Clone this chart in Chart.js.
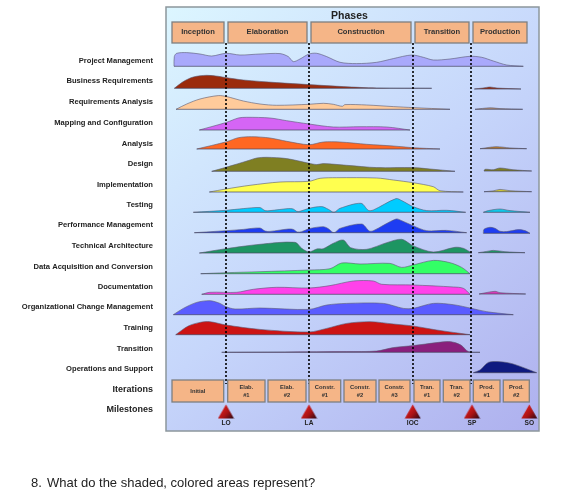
<!DOCTYPE html>
<html><head><meta charset="utf-8">
<style>
html,body{margin:0;padding:0;background:#fff;width:562px;height:494px;overflow:hidden}
#wrap{position:relative;width:562px;height:494px}
canvas{position:absolute;left:0;top:0}
#q{position:absolute;left:31px;top:475px;font:13px "Liberation Sans",Arial,sans-serif;color:#222;white-space:pre}
#q span{display:inline-block;width:16px}
</style>
<script src="https://cdn.jsdelivr.net/npm/chart.js@4"></script>
</head><body><div id="wrap"><canvas id="c" width="562" height="494"></canvas><div id="q"><span>8.</span>What do the shaded, colored areas represent?</div></div>
<script>
// Row labels and their positions on the vertical axis
const rowLabels = ["Project Management","Business Requirements","Requirements Analysis","Mapping and Configuration","Analysis","Design","Implementation","Testing","Performance Management","Technical Architecture","Data Acquisition and Conversion","Documentation","Organizational Change Management","Training","Transition","Operations and Support","Iterations","Milestones"];
const rowTicks = [61,81.3,102.3,122.7,143.7,164,184.7,205,225.3,246,266.7,287,307.3,328,348.7,369.3,389.3,409.7];

const phaseLabels = ["Inception","Elaboration","Construction","Transition","Production"];
const phaseStart = [172,228,311,415,473];
const phaseEnd = [224,307,411,469,527];

const iterLabels = [["Initial"],["Elab.","#1"],["Elab.","#2"],["Constr.","#1"],["Constr.","#2"],["Constr.","#3"],["Tran.","#1"],["Tran.","#2"],["Prod.","#1"],["Prod.","#2"]];
const iterStart = [172,227.7,268,309,344,379,414,443.3,473.3,503.3];
const iterEnd = [223.7,265,306,340.7,376,410,440,470,500,529.3];

const milestoneLabels = ["LO","LA","IOC","SP","SO"];
const milestoneX = [226,309,412.7,472,529.3];
const phaseLineX = [226,309,413,471];

// Hump profiles: [time, height above the row baseline]
const projectMgmt = [[174,0],[174.3,9.7],[176.7,13],[186.7,13.7],[200,12.3],[211.7,10.3],[226,13],[240,11.3],[260,12.3],[280,12.7],[288.3,9.7],[293.3,4.7],[300,7.3],[309,12.3],[316.7,13],[326.7,9.7],[340,4],[356.7,2.7],[376.7,4],[393.3,7.7],[411.7,11.3],[423.3,9],[433.3,6.3],[450,7.3],[470,10],[481.7,9],[493.3,5.3],[506.7,1.3],[523.3,0]];
const businessReq = [[174.3,0],[183.3,6.7],[193.3,11.3],[206.7,13],[218.3,12],[226,10.7],[243.3,8.3],[276.7,5.7],[309,3.7],[343.3,1.7],[376.7,0.3],[431.7,0]];
const businessReqProd = [[474.3,0],[483,1],[490,2],[497,1],[521,0]];
const reqAnalysis = [[176,0],[186.7,5.3],[200,10.3],[218.3,13.7],[226.7,12.7],[243.3,8.3],[260,5.3],[276.7,4],[309,5],[323.3,6],[333.3,5],[342.3,3],[345,4.7],[366.7,4.3],[393.3,2.7],[413,1.7],[450,0]];
const reqAnalysisProd = [[475,0],[490,1.5],[500,0.7],[522.7,0]];
const mapping = [[199.3,0],[226.7,7.7],[238.3,12],[246.7,12.7],[270,12],[286.7,9.3],[309,6],[333.3,3],[360,3.3],[386.7,3],[410,0]];
const analysis = [[196.7,0],[226.7,7.3],[238.3,11.3],[251.7,12.3],[270,11],[286.7,7.7],[309,4.3],[323.3,7],[340,7],[366.7,4.7],[393.3,3],[413,1.3],[440,0]];
const analysisProd = [[480,0],[496,2],[510,0.8],[526.7,0]];
const design = [[211.7,0],[226,4],[248.3,10.7],[256.7,13.3],[266.7,14],[286.7,12.7],[309,8],[316.7,6.7],[323.3,7.7],[346.7,6],[376.7,3.7],[413,3.7],[430,2.3],[455,0]];
const designProd = [[484,0],[485,1.7],[493.3,1.3],[500,3],[513,1.3],[531.7,0]];
const implementation = [[209.3,0],[226,3],[250,6.7],[280,10],[309,10.7],[320,13.7],[336.7,14.3],[376.7,14],[393.3,12],[413,9.3],[433.3,5.3],[440,1.3],[463.3,0]];
const implementationProd = [[484,0],[493,0.8],[500,2.3],[510,1],[531.7,0]];
const testing = [[193.3,0],[226,2],[243.3,3.7],[260,4.7],[265,1.7],[270,1.7],[288.3,3.7],[293.3,3.3],[296.7,1],[300,1],[309,4],[321.7,5.7],[328.3,3],[334,0],[340,4],[361,9],[368.3,2],[373.3,2.3],[396,13.7],[401.7,11.7],[413,5.7],[426.7,1.7],[446.7,2],[465.7,0]];
const testingProd = [[483.3,0],[488.3,1.7],[500,3.3],[510,1.7],[530,0]];
const perfMgmt = [[194.3,0],[226,2],[243.3,3.3],[260,4.7],[265,1.7],[270,1.3],[288.3,3.7],[293.3,3.3],[297.3,0.7],[301.7,1],[309,4],[323.3,6],[328.3,4],[334,0],[340,4.3],[361.7,8.7],[369.3,1.7],[373.3,2],[396,13.7],[401.7,12],[413,7],[426.7,2],[446.7,2.3],[466.7,0]];
const perfMgmtProd = [[483.3,0],[484,4],[490,6],[495,5],[500,2],[506.7,1.7],[518.3,3.7],[525,2.7],[530,0]];
const techArch = [[199.3,0],[226,4.3],[260,8.7],[295,10.7],[301.7,4.7],[309,1],[316.7,4],[323.3,4.3],[333.3,9.7],[343.3,13],[350.7,5.3],[366.7,3.7],[386.7,10.3],[401.7,13.7],[413,7.3],[433.3,1],[455,5.7],[463.3,4.7],[471.7,0]];
const techArchProd = [[478.3,0],[486.7,1.3],[493.3,2.3],[505,1],[525,0]];
const dataAcq = [[200.7,0],[226,1],[260,2],[309,3.7],[330,5],[341.7,10.7],[360,9.7],[390,10.3],[401.7,6.3],[413,8.7],[433.3,13.3],[450,11],[461.7,6.3],[470,0]];
const documentation = [[201.7,0],[210,2],[236.7,2],[253.3,5],[276.7,7],[309,6.3],[330,8.7],[353.3,13.3],[373.3,13.3],[381.7,10],[413,9.3],[453.3,7.3],[463.3,6],[470,0]];
const documentationProd = [[479,0],[495,2.7],[500,1.3],[525.7,0]];
const orgChange = [[173.3,0],[183.3,6.3],[196.7,12.3],[210,14],[220,11.3],[226,8],[235,5.7],[260,6.7],[309,5.3],[326.7,9.7],[346.7,11.3],[383.3,11.3],[403.3,6.3],[413,6.3],[433.3,11.3],[453.3,10],[471.7,6.3],[486.7,3],[513.3,0]];
const training = [[175.7,0],[188.3,8.7],[200,12.3],[210,13],[226,9.7],[260,5.3],[309,2.7],[326.7,6.3],[346.7,11.3],[370,13],[393.3,10.7],[413,8.7],[436.7,4.7],[470,0]];
const transitionHump = [[221.7,0],[346.7,0.7],[376.7,1.3],[393.3,4.7],[413,6.7],[446.7,10.7],[455,9.7],[461.7,6.7],[468.3,0.7],[480,0]];
const operations = [[473.3,0],[480,2.7],[488.3,10.3],[500,11],[513.3,8.7],[536.7,0]];

const humpProfiles = [projectMgmt,businessReq,businessReqProd,reqAnalysis,reqAnalysisProd,mapping,analysis,analysisProd,design,designProd,implementation,implementationProd,testing,testingProd,perfMgmt,perfMgmtProd,techArch,techArchProd,dataAcq,documentation,documentationProd,orgChange,training,transitionHump,operations];
const humpBases = [66.3,88.3,89,109.3,109.3,130,149,148.7,171.3,171,192,191.7,212.3,212.3,232.7,233.3,253,252.7,273.7,294.3,294,314.7,334.7,352.3,372.7];
const humpColors = ["#a9a9fb","#9b2b0c","#9b2b0c","#ffcb9b","#b98f6e","#d565f5","#ff6722","#b5792c","#7f7f22","#7f7f22","#ffff4f","#cfc733","#00ccff","#10c8e8","#1e3df2","#1e3df2","#1d9562","#1d9562","#33ff66","#ff42ea","#d83bb8","#5a5cff","#cc1414","#8a1f7d","#0f1a80"];

const bold = "\"Liberation Sans\",Arial,sans-serif";

function triangleImage(){
  const s=document.createElement('canvas'); s.width=17; s.height=15;
  const g=s.getContext('2d');
  const gr=g.createLinearGradient(3,3,15,14);
  gr.addColorStop(0,'#e02020'); gr.addColorStop(.55,'#a81214'); gr.addColorStop(1,'#3a0a14');
  g.fillStyle=gr; g.beginPath(); g.moveTo(8.5,0.5); g.lineTo(16.5,14.5); g.lineTo(0.5,14.5); g.closePath(); g.fill();
  return s;
}

const datasets=[];
phaseLineX.forEach(x=>datasets.push({data:[{x,y:43},{x,y:384}],borderColor:'#000',borderWidth:1.6,borderDash:[2,2],pointRadius:0,fill:false}));
datasets.push({data:milestoneX.map(x=>({x,y:411.5})),showLine:false,pointStyle:triangleImage(),pointRadius:8,fill:false,clip:false});
humpProfiles.forEach((p,i)=>{
  const b=humpBases[i];
  const pts=p.map(q=>({x:q[0],y:b-q[1]}));
  datasets.push({data:[pts[0],pts[pts.length-1]].map(q=>({x:q.x,y:b})),borderColor:'rgba(70,70,95,.7)',borderWidth:1,pointRadius:0,fill:false});
  datasets.push({data:pts,borderColor:'rgba(90,90,115,.6)',borderWidth:1,pointRadius:0,tension:0.3,backgroundColor:humpColors[i],fill:{value:b}});
});

const decor={id:'decor',
  beforeDraw(ch){
    const a=ch.chartArea,c=ch.ctx;
    const g=c.createLinearGradient(a.left,a.top,a.right,a.bottom);
    g.addColorStop(0,'#dcf6ff'); g.addColorStop(.5,'#c6d6fb'); g.addColorStop(1,'#aeb0ee');
    c.save(); c.fillStyle=g; c.fillRect(a.left,a.top,a.width,a.height);
    c.strokeStyle='#8c979c'; c.lineWidth=1.5; c.strokeRect(a.left,a.top,a.width,a.height); c.restore();
  },
  afterDatasetsDraw(ch){
    const c=ch.ctx,X=ch.scales.x,Y=ch.scales.y;
    const box=(x0,x1,y0,y1)=>{
      const l=X.getPixelForValue(x0),r=X.getPixelForValue(x1),t=Y.getPixelForValue(y0),b=Y.getPixelForValue(y1);
      c.fillStyle='#f5b587'; c.fillRect(l,t,r-l,b-t);
      c.strokeStyle='#7d7f80'; c.lineWidth=1.3; c.strokeRect(l,t,r-l,b-t);
      return [(l+r)/2,(t+b)/2];
    };
    c.save(); c.textAlign='center'; c.textBaseline='middle';
    c.fillStyle='#222'; c.font='bold 10.5px '+bold;
    c.fillText('Phases',X.getPixelForValue(349.5),16);
    phaseLabels.forEach((t,i)=>{
      const m=box(phaseStart[i],phaseEnd[i],22,43);
      c.fillStyle='#333'; c.font='bold 7.6px '+bold; c.fillText(t,m[0],m[1]-0.5);
    });
    iterLabels.forEach((t,i)=>{
      const m=box(iterStart[i],iterEnd[i],380,402);
      c.fillStyle='#333'; c.font='bold 5.8px '+bold;
      if(t.length===1) c.fillText(t[0],m[0],m[1]);
      else {c.fillText(t[0],m[0],m[1]-4); c.fillText(t[1],m[0],m[1]+4);}
    });
    c.font='bold 6.6px '+bold; c.fillStyle='#222';
    milestoneLabels.forEach((t,i)=>c.fillText(t,X.getPixelForValue(milestoneX[i]),423.5));
    c.restore();
  }
};

new Chart(document.getElementById('c'),{
  type:'line',
  data:{datasets},
  plugins:[decor],
  options:{
    responsive:false,animation:false,
    layout:{autoPadding:false,padding:{top:7,right:23,bottom:63,left:0}},
    plugins:{legend:{display:false},tooltip:{enabled:false},title:{display:false}},
    scales:{
      x:{type:'linear',min:166,max:539,display:false},
      y:{type:'linear',reverse:true,min:7,max:431,
        afterFit(s){s.width=166;s.paddingTop=0;s.paddingBottom=0;},
        afterBuildTicks(s){s.ticks=rowTicks.map(value=>({value}));},
        grid:{display:false,drawTicks:false},border:{display:false},
        ticks:{autoSkip:false,padding:13,color:'#222',maxRotation:0,
          callback:(v,i)=>rowLabels[i],
          font:ctx=>({family:bold,weight:'bold',size:ctx.index>=16?9:7.6})}
      }
    }
  }
});
</script></body></html>
